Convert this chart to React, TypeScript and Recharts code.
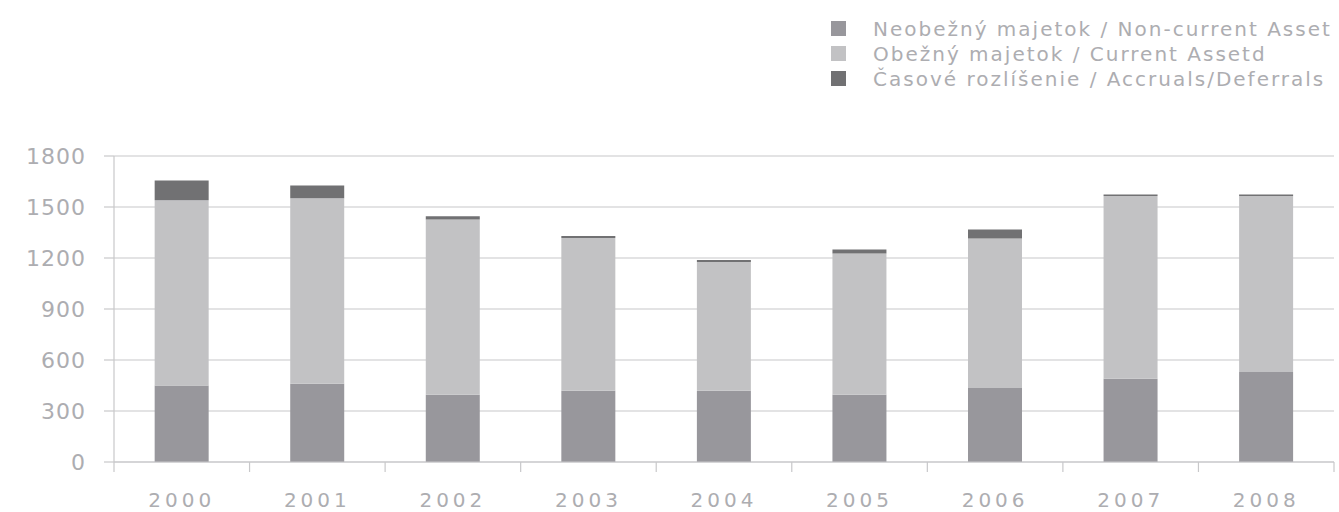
import { BarChart, Bar, XAxis, YAxis, CartesianGrid, Legend } from 'recharts';

// Values (thousands, stacked per year)
const years = ['2000', '2001', '2002', '2003', '2004', '2005', '2006', '2007', '2008'];
const nonCurrent = [450, 460, 395, 419, 419, 395, 436, 489, 530];
const current = [1090, 1092, 1032, 898, 757, 832, 879, 1076, 1035];
const accruals = [116, 75, 19, 12, 12, 23, 53, 8, 8];
const yTicks = [0, 300, 600, 900, 1200, 1500, 1800];

const seriesNames = [
    'Neobežný majetok / Non-current Asset',
    'Obežný majetok / Current Assetd',
    'Časové rozlíšenie / Accruals/Deferrals',
];

const COLORS = ['#98979c', '#c2c2c4', '#717173'];
const TEXT = '#adadb1';
const GRID = '#c8c8ca';
const FONT = '"DejaVu Sans", sans-serif';

const data = years.map((year, i) => ({
    year,
    nonCurrent: nonCurrent[i],
    current: current[i],
    accruals: accruals[i],
}));

// Category ticks sit between bars, labels in the middle of each band
const YearTick = (props: any) => {
    const { x, y, payload, index, visibleTicksCount, width } = props;
    const half = payload.offset || width / years.length / 2;
    const top = y - 10;
    const isLast = index === visibleTicksCount - 1;
    return (
        <g>
            <line x1={x - half} x2={x - half} y1={top} y2={top + 10} stroke={GRID} strokeWidth={1.2} />
            {isLast && (
                <line x1={x + half} x2={x + half} y1={top} y2={top + 10} stroke={GRID} strokeWidth={1.2} />
            )}
            <text
                x={x}
                y={top + 45}
                textAnchor="middle"
                fill={TEXT}
                fontSize={20}
                fontFamily={FONT}
                style={{ letterSpacing: '4px' }}
            >
                {payload.value}
            </text>
        </g>
    );
};

const LegendBox = () => (
    <div style={{ fontFamily: FONT, color: TEXT, fontSize: 20, letterSpacing: '2px' }}>
        {seriesNames.map((name, i) => (
            <div key={name} style={{ display: 'flex', alignItems: 'center', height: 25, whiteSpace: 'nowrap' }}>
                <span style={{ width: 15, height: 15, background: COLORS[i], marginRight: 27, flexShrink: 0 }} />
                {name}
            </div>
        ))}
    </div>
);

export default function App() {
    return (
        <div style={{ position: 'absolute', left: 0, top: 0, width: 1339, height: 512, background: '#fff' }}>
            <BarChart
                width={1339}
                height={512}
                data={data}
                margin={{ top: 156, right: 5, left: 0, bottom: 0 }}
                barCategoryGap="30%"
            >
                <CartesianGrid vertical={false} stroke={GRID} strokeWidth={1.2} />
                <XAxis
                    dataKey="year"
                    height={50}
                    axisLine={{ stroke: GRID, strokeWidth: 1.2 }}
                    tickLine={false}
                    tickSize={10}
                    tickMargin={0}
                    tick={<YearTick />}
                    interval={0}
                />
                <YAxis
                    width={114}
                    domain={[0, 1800]}
                    ticks={yTicks}
                    axisLine={{ stroke: GRID, strokeWidth: 1.2 }}
                    tickLine={{ stroke: GRID, strokeWidth: 1.2 }}
                    tickSize={10}
                    tickMargin={18}
                    tick={{ fill: TEXT, fontSize: 22, fontFamily: FONT, letterSpacing: '1px' }}
                />
                <Legend
                    layout="vertical"
                    align="center"
                    verticalAlign="middle"
                    content={<LegendBox />}
                    wrapperStyle={{ top: 16, left: 831, width: 'auto' }}
                />
                <Bar dataKey="nonCurrent" stackId="a" fill={COLORS[0]} name={seriesNames[0]} isAnimationActive={false} />
                <Bar dataKey="current" stackId="a" fill={COLORS[1]} name={seriesNames[1]} isAnimationActive={false} />
                <Bar dataKey="accruals" stackId="a" fill={COLORS[2]} name={seriesNames[2]} isAnimationActive={false} />
            </BarChart>
        </div>
    );
}
